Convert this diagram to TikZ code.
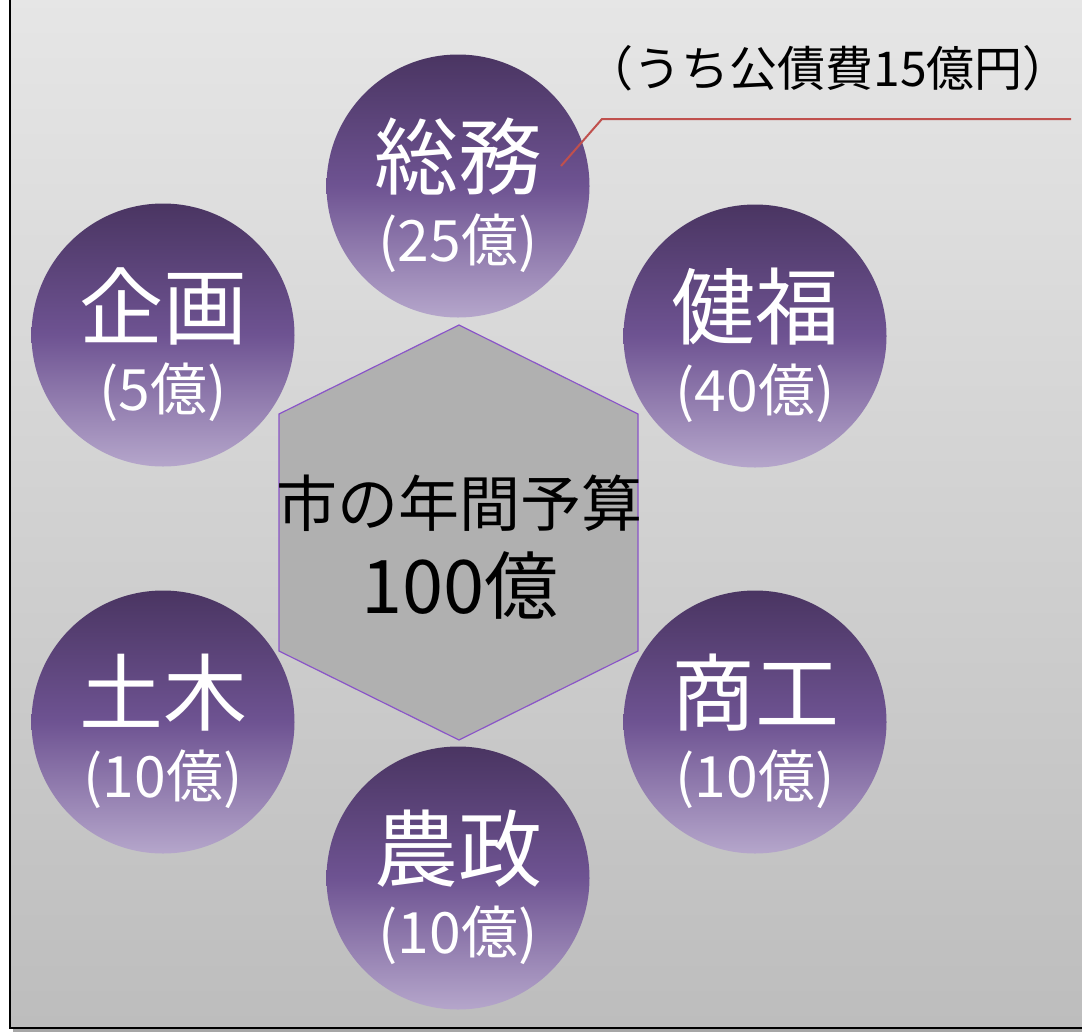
\documentclass[tikz,border=0pt]{standalone}
\usepackage{fontspec}
\setmainfont{Noto Sans CJK JP}
\definecolor{bgtop}{HTML}{E6E6E6}
\definecolor{bgbot}{HTML}{BDBDBD}
\definecolor{ctop}{HTML}{4A3562}
\definecolor{cmid}{HTML}{6E5392}
\definecolor{cbot}{HTML}{B5A6CB}
\definecolor{hexfill}{HTML}{B0B0B0}
\definecolor{hexline}{HTML}{8A55C8}
\definecolor{callred}{HTML}{C0504D}
\tikzset{
  bubble/.style={circle, minimum size=263pt, inner sep=0pt, draw=none,
    top color=ctop, bottom color=cbot, middle color=cmid},
  bigname/.style={text=white, inner sep=0pt, font=\fontsize{84}{84}\selectfont},
  amount/.style={text=white, inner sep=0pt, font=\fontsize{57}{57}\selectfont},
  centertxt/.style={text=black, inner sep=0pt},
  callline/.style={draw=callred, line width=2pt}
}
\begin{document}
\begin{tikzpicture}[x=1pt,y=-1pt]
\useasboundingbox (0,0) rectangle (1082,1034);
% background frame
\fill[black!35] (13,-5) rectangle (1090,1032);
\shade[top color=bgtop, bottom color=bgbot] (10,-5) rectangle (1090,1028);
\draw[black, line width=2.5pt] (10,-5) -- (10,1028) -- (1090,1028);
% hexagon
\node[draw=none] (hexc) at (458,532) {};
\filldraw[fill=hexfill, draw=hexline, line width=1.2pt]
  (459,325) -- (638,414) -- (638,651) -- (459,740) -- (279,651) -- (279,414) -- cycle;
\node[centertxt, font=\fontsize{61}{61}\selectfont] (hex1) at (459,503) {市の年間予算};
\node[centertxt, font=\fontsize{74}{74}\selectfont] (hex2) at (460,585) {100億};
% circles
\node[bubble] (somu) at (458,186) {};
\node[bubble] (kikaku) at (163,335) {};
\node[bubble] (kenpuku) at (755,336) {};
\node[bubble] (doboku) at (163,722) {};
\node[bubble] (shoko) at (755,722) {};
\node[bubble] (nosei) at (458,878) {};
% labels
\node[bigname] (somuN) at ([yshift=29pt]somu.center) {総務};
\node[amount] (somuA) at ([yshift=-57pt]somu.center) {(25億)};
\node[bigname] (kikakuN) at ([yshift=29pt]kikaku.center) {企画};
\node[amount] (kikakuA) at ([yshift=-57pt]kikaku.center) {(5億)};
\node[bigname] (kenpukuN) at ([yshift=29pt]kenpuku.center) {健福};
\node[amount] (kenpukuA) at ([yshift=-57pt]kenpuku.center) {(40億)};
\node[bigname] (dobokuN) at ([yshift=29pt]doboku.center) {土木};
\node[amount] (dobokuA) at ([yshift=-57pt]doboku.center) {(10億)};
\node[bigname] (shokoN) at ([yshift=29pt]shoko.center) {商工};
\node[amount] (shokoA) at ([yshift=-57pt]shoko.center) {(10億)};
\node[bigname] (noseiN) at ([yshift=29pt]nosei.center) {農政};
\node[amount] (noseiA) at ([yshift=-57pt]nosei.center) {(10億)};
% callout
\node[text=black, inner sep=0pt, font=\fontsize{48}{48}\selectfont] (note) at (828,68) {（うち公債費15億円）};
\coordinate (cstart) at (561,166);
\coordinate (cbend) at (602,119);
\coordinate (cend) at (1071,119);
\draw[callline] (cstart) -- (cbend) -- (cend);
\end{tikzpicture}
\end{document}
